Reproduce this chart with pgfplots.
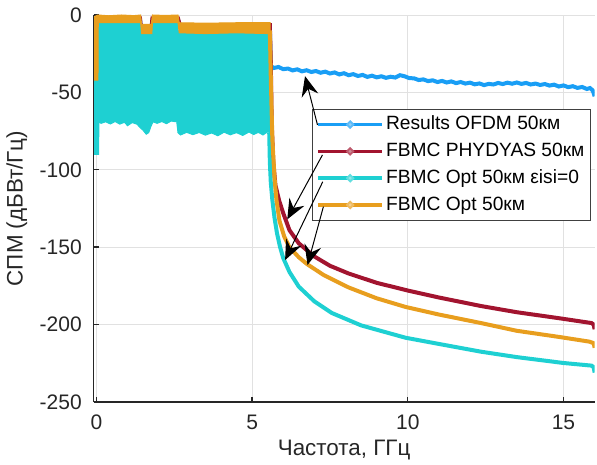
\documentclass[border=0pt]{standalone}
\usepackage{fontspec}
\setmainfont{Liberation Sans}
\usepackage{pgfplots}
\pgfplotsset{compat=1.18}
\usetikzlibrary{arrows.meta}
\definecolor{bluec}{RGB}{25,158,245}
\definecolor{redc}{RGB}{162,20,47}
\definecolor{cyanc}{RGB}{30,208,210}
\definecolor{orangec}{RGB}{232,158,30}
\definecolor{axc}{RGB}{38,38,38}
\definecolor{gridc}{RGB}{225,225,225}
\pgfplotsset{
  dotleg/.style={legend image code/.code={
    \draw[##1,line width=1.7pt] (0pt,0pt) -- (32.2pt,0pt);
    \fill[##1] (16.1pt,0pt) circle (0.8pt);
    \fill[white, opacity=0.3] (16.1pt,0pt) circle (0.8pt);}},
}
\begin{document}
\begin{tikzpicture}
\path[use as bounding box] (-46.8pt,-31pt) rectangle (251.7pt,201pt);
\begin{axis}[
  at={(0,0)}, anchor=south west,
  scale only axis, width=250.5pt, height=193.5pt,
  xmin=-0.09, xmax=16, ymin=-250, ymax=0,
  axis x line*=bottom, axis y line*=left,
  axis line style={-, line width=0.7pt, color=axc},
  xtick={0,5,10,15}, xticklabels={0,5,10,15},
  ytick={-250,-200,-150,-100,-50,0},
  yticklabels={-250,-200,-150,-100,-50,0},
  tick align=inside, major tick length=2.5pt,
  tick style={line width=0.7pt, color=axc},
  grid=major, grid style={line width=0.4pt, color=gridc},
  tick label style={font=\fontsize{10.5}{12}\selectfont, color=axc},
  yticklabel style={xshift=-2.4pt},
  xticklabel style={yshift=-3pt},
  label style={font=\fontsize{11.2}{13}\selectfont, color=axc},
  xlabel={Частота, ГГц}, ylabel={СПМ (дБВт/Гц)},
  xlabel style={at={(axis description cs:0.5,-0.125)}, anchor=center},
  ylabel style={at={(axis description cs:-0.153,0.5)}, anchor=center},
  legend style={at={(axis cs:6.92,-60.7)}, anchor=north west,
    font=\fontsize{9.6}{11}\selectfont, draw=black!75, line width=0.4pt,
    fill=white, inner sep=2pt, row sep=2.2pt,
    nodes={inner sep=1pt, text height=7.2pt, text depth=2pt},
    /tikz/every even column/.append style={column sep=2pt}},
  legend cell align=left,
]

% Results OFDM 50km
\addplot[bluec, line width=2pt, dotleg] coordinates {
(-0.06,-3)(0.1,-3)(1.4,-3)(1.43,-8)(1.77,-8)(1.8,-3)(2.62,-3)(2.7,-8)(5.57,-8)(5.6,-33)
(5.7,-34.2)(5.85,-33.6)(6.0,-35.0)(6.15,-34.6)(6.3,-35.8)(6.45,-35.1)(6.6,-36.4)(6.75,-35.7)
(6.9,-36.8)(7.05,-36.2)(7.2,-37.3)(7.35,-36.6)(7.5,-37.8)(7.65,-37.1)(7.8,-38.4)(7.95,-37.6)
(8.1,-38.9)(8.25,-38.2)(8.4,-39.4)(8.55,-38.7)(8.7,-40.0)(8.85,-39.2)(9.0,-40.3)(9.15,-39.6)
(9.3,-40.6)(9.45,-39.9)(9.6,-40.4)(9.75,-38.9)(9.9,-39.6)(10.05,-40.8)(10.2,-40.9)(10.35,-42.0)
(10.5,-41.6)(10.65,-42.7)(10.8,-42.2)(10.95,-43.3)(11.1,-42.6)(11.25,-43.6)(11.4,-42.9)(11.55,-44.0)
(11.7,-43.3)(11.85,-44.3)(12.0,-43.7)(12.15,-44.8)(12.3,-44.2)(12.45,-45.3)(12.6,-44.5)(12.75,-44.9)
(12.9,-43.9)(13.05,-44.6)(13.2,-43.7)(13.35,-44.4)(13.5,-43.6)(13.65,-44.5)(13.8,-43.9)(13.95,-44.9)
(14.1,-44.3)(14.25,-45.2)(14.4,-44.6)(14.55,-45.6)(14.7,-45.0)(14.85,-46.2)(15.0,-45.5)(15.15,-46.6)
(15.3,-46.0)(15.45,-47.1)(15.6,-46.5)(15.75,-47.8)(15.85,-47.2)(15.93,-48.5)(15.97,-50.5)(16.0,-52.5)
};
\addlegendentry{Results OFDM 50км}

% FBMC PHYDYAS 50km
\addplot[redc, line width=2pt, dotleg] coordinates {
(-0.06,-2.5)(0.05,-2.2)(1.4,-2.2)(1.43,-8)(1.77,-8)(1.8,-2.2)(2.62,-2.2)(2.68,-6.6)(5.57,-6.6)(5.6,-30)(5.63,-70)
(5.68,-95)(5.75,-110)(5.87,-120)(6.0,-128)(6.2,-139)(6.5,-147.5)(7.0,-156)(7.5,-162)
(8.1,-167)(9,-173)(10,-178)(11,-182.5)(12.35,-188)(13.5,-192)(14.9,-196)(15.9,-199)
(15.97,-200)(16,-203)
};
\addlegendentry{FBMC PHYDYAS 50км}

% FBMC Opt 50km eisi=0 (in-band envelope)
\addplot[cyanc, fill=cyanc, line width=0.5pt, forget plot] coordinates {
(-0.06,-88)(-0.05,-8)(0.07,-5)(1.42,-5)(1.45,-10)(1.76,-10)(1.8,-5)(2.6,-5)(2.64,-12)(5.59,-12)
(5.59,-76)(5.5,-75.5)(5.35,-77.5)(5.2,-75.8)(5.05,-77.2)(4.9,-75.6)(4.7,-77.8)(4.5,-76)
(4.3,-77.4)(4.1,-75.7)(3.9,-78)(3.7,-76.2)(3.5,-77.6)(3.3,-75.9)(3.1,-77.3)(2.9,-75.8)
(2.7,-77.5)(2.62,-76)(2.58,-69)(2.4,-68.5)(2.25,-70.2)(2.1,-68.8)(1.95,-70)(1.82,-69)
(1.75,-72)(1.68,-76)(1.6,-77)(1.5,-74.5)(1.42,-73)(1.3,-70.5)(1.15,-69.5)(1.0,-71.5)
(0.9,-69.3)(0.75,-70.5)(0.6,-68.8)(0.45,-70.4)(0.3,-69)(0.15,-70)(0.08,-69)(0.07,-90)
(-0.06,-90)(-0.06,-88)
};
\addplot[cyanc, line width=2pt, dotleg] coordinates {
(5.55,-76)(5.57,-95)(5.6,-108)(5.65,-119.5)(5.72,-131)(5.8,-141)(5.9,-150)(6.0,-157)
(6.2,-166)(6.5,-175.5)(7.0,-185)(7.56,-192.5)(8.5,-200.5)(9.93,-208.5)(11,-212.5)
(12.35,-217.5)(13.5,-221)(15,-224.8)(15.9,-226.5)(15.97,-227.5)(16,-231)
};
\addlegendentry{FBMC Opt 50км εisi=0}

% FBMC Opt 50km (in-band envelope)
\addplot[orangec, fill=orangec, line width=0.5pt, forget plot] coordinates {
(-0.06,-1)(0.05,0)(0.4,-0.5)(0.8,0)(1.2,-0.4)(1.42,0)(1.45,-6)(1.76,-6)(1.8,0)(2.2,-0.3)
(2.62,0)(2.66,-5)(3.5,-5.3)(4.5,-5)(5.58,-5)(5.58,-12)(5.5,-12)(4.5,-11.5)(3.5,-12)
(2.66,-11.5)(2.62,-5)(1.8,-5)(1.78,-12)(1.45,-12)(1.42,-5)(0.06,-5)(0.05,-42)(-0.06,-42)
(-0.06,-1)
};
\addplot[orangec, line width=2pt, dotleg] coordinates {
(5.57,-10)(5.6,-40)(5.65,-80)(5.72,-105)(5.78,-119)(5.88,-133)(6.03,-143)(6.2,-150)
(6.5,-156.5)(6.77,-161)(7.3,-168)(8.1,-176)(9,-183)(9.93,-188.6)(11,-193.5)(12.35,-199)
(13.5,-204)(14.87,-208)(15.83,-211)(15.97,-212)(16,-215)
};
\addlegendentry{FBMC Opt 50км}

\coordinate (t1) at (axis cs:7.1,-71);      \coordinate (h1) at (axis cs:6.7,-39.5);
\coordinate (t2) at (axis cs:7.26,-90.4);   \coordinate (h2) at (axis cs:6.13,-132);
\coordinate (t3) at (axis cs:7.27,-107.7);  \coordinate (h3) at (axis cs:6.06,-158.3);
\coordinate (t4) at (axis cs:7.29,-123.8);  \coordinate (h4) at (axis cs:6.78,-161.5);
\end{axis}
\foreach \i in {1,2,3,4}
  \draw[black, line width=0.5pt, -{Stealth[length=10pt,width=8.5pt,inset=3.5pt]}] (t\i) -- (h\i);
\end{tikzpicture}
\end{document}
